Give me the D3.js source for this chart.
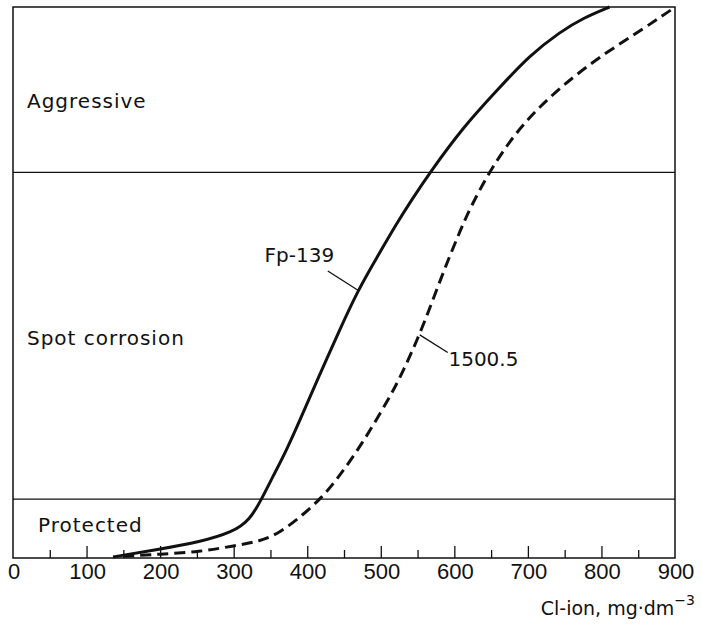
<!DOCTYPE html>
<html>
<head>
<meta charset="utf-8">
<script src="https://cdnjs.cloudflare.com/ajax/libs/d3/7.8.5/d3.min.js"></script>
<style>
  body { margin: 0; background: #fff; }
  text { font-family: "DejaVu Sans", sans-serif; fill: #111; }
  .tick-label { font-family: "Liberation Sans", sans-serif; }
</style>
</head>
<body>
<div id="chart"></div>
<script>
const w = 701,
      h = 625;
const margin = {left: 13, top: 7, right: 26, bottom: 67};

// Cl-ion concentration (mg/dm3) vs relative corrosion level (0..100)
const fp139_x = [136, 200, 254, 299, 322, 338, 353, 372, 390, 415, 444, 469, 495, 522, 542, 567, 612, 658, 703, 744, 775, 811];
const fp139_y = [0.2, 1.6, 2.9, 4.7, 6.9, 10.7, 14.7, 19.6, 25.0, 32.7, 41.4, 48.6, 54.6, 60.8, 65.0, 70.0, 78.2, 84.9, 91.3, 95.5, 98.0, 100];
const s1500_x = [150, 200, 254, 299, 336, 363, 394, 420, 440, 462, 481, 499, 517, 530, 553, 571, 590, 608, 621, 648, 680, 716, 761, 807, 852, 896];
const s1500_y = [0.3, 0.7, 1.1, 2.2, 3.0, 4.6, 7.8, 11.0, 14.2, 18.3, 22.2, 26.2, 30.4, 33.8, 40.6, 46.9, 53.6, 59.4, 63.4, 70.2, 76.6, 82.0, 87.3, 91.8, 95.6, 99.6];

const zoneLimits = [10.7, 70];
const zoneNames = ['Protected', 'Spot corrosion', 'Aggressive'];
const zoneLabelX = [34, 19, 19];   // in x-data units
const zoneLabelY = [4.8, 38.6, 81.7];

const xTicks = d3.range(0, 901, 100);
const xMinorTicks = d3.range(50, 900, 100);

const svg = d3.select('#chart').append('svg')
    .attr('width', w)
    .attr('height', h);

const x = d3.scaleLinear().domain([0, 900]).range([margin.left, w - margin.right]);
const y = d3.scaleLinear().domain([0, 100]).range([h - margin.bottom, margin.top]);

// frame
svg.append('rect')
   .attr('x', x(0)).attr('y', y(100))
   .attr('width', x(900) - x(0)).attr('height', y(0) - y(100))
   .attr('fill', 'none').attr('stroke', '#111').attr('stroke-width', 1.5);

// zone borders
svg.selectAll('line.zone')
   .data(zoneLimits)
   .enter().append('line')
   .attr('class', 'zone')
   .attr('x1', x(0)).attr('x2', x(900))
   .attr('y1', d => y(d)).attr('y2', d => y(d))
   .attr('stroke', '#111').attr('stroke-width', 1.2);

// inward ticks
const xAxis = d3.axisTop(x).tickValues(xTicks.slice(1, -1)).tickSize(12).tickFormat('');
const gx = svg.append('g').attr('transform', 'translate(0,' + y(0) + ')').call(xAxis);
gx.select('.domain').remove();
gx.selectAll('line').attr('stroke', '#111').attr('stroke-width', 1.3);
const xAxisMinor = d3.axisTop(x).tickValues(xMinorTicks).tickSize(8).tickFormat('');
const gxm = svg.append('g').attr('transform', 'translate(0,' + y(0) + ')').call(xAxisMinor);
gxm.select('.domain').remove();
gxm.selectAll('line').attr('stroke', '#111').attr('stroke-width', 1.3);

svg.selectAll('text.tick-label')
   .data(xTicks)
   .enter().append('text')
   .attr('class', 'tick-label')
   .attr('x', d => x(d) + 1)
   .attr('y', y(0) + 21)
   .attr('text-anchor', 'middle')
   .style('font-size', '22px')
   .text(d => d);

// axis title
const title = svg.append('text')
   .attr('x', w - 6).attr('y', 615)
   .attr('text-anchor', 'end')
   .style('font-size', '19px');
title.append('tspan').text('Cl-ion, mg\u00b7dm');
title.append('tspan').attr('dy', -10).style('font-size', '14px').text('\u22123');

// zone labels
svg.selectAll('text.zone-label')
   .data(zoneNames)
   .enter().append('text')
   .attr('class', 'zone-label')
   .attr('x', (d, i) => x(zoneLabelX[i]))
   .attr('y', (d, i) => y(zoneLabelY[i]))
   .style('font-size', '20px')
   .style('letter-spacing', '1px')
   .text(d => d);

// curves
const line = d3.line().x(d => x(d[0])).y(d => y(d[1])).curve(d3.curveBasis);
svg.append('path')
   .datum(d3.zip(fp139_x, fp139_y))
   .attr('d', line)
   .attr('fill', 'none').attr('stroke', '#111').attr('stroke-width', 3);
svg.append('path')
   .datum(d3.zip(s1500_x, s1500_y))
   .attr('d', line)
   .attr('fill', 'none').attr('stroke', '#111').attr('stroke-width', 3)
   .attr('stroke-dasharray', '11,6');

// curve labels with leaders
const curveLabels = [
  {name: 'Fp-139', at: [469, 48.6], text: [342, 53.7], anchor: [428, 52.1]},
  {name: '1500.5', at: [553, 40.5], text: [592, 34.8], anchor: [591, 37.3]}
];
svg.selectAll('line.leader')
   .data(curveLabels)
   .enter().append('line')
   .attr('x1', d => x(d.at[0])).attr('y1', d => y(d.at[1]))
   .attr('x2', d => x(d.anchor[0])).attr('y2', d => y(d.anchor[1]))
   .attr('stroke', '#111').attr('stroke-width', 1.3);
svg.selectAll('text.curve-label')
   .data(curveLabels)
   .enter().append('text')
   .attr('x', d => x(d.text[0])).attr('y', d => y(d.text[1]))
   .style('font-size', '20px')
   .text(d => d.name);
</script>
</body>
</html>
